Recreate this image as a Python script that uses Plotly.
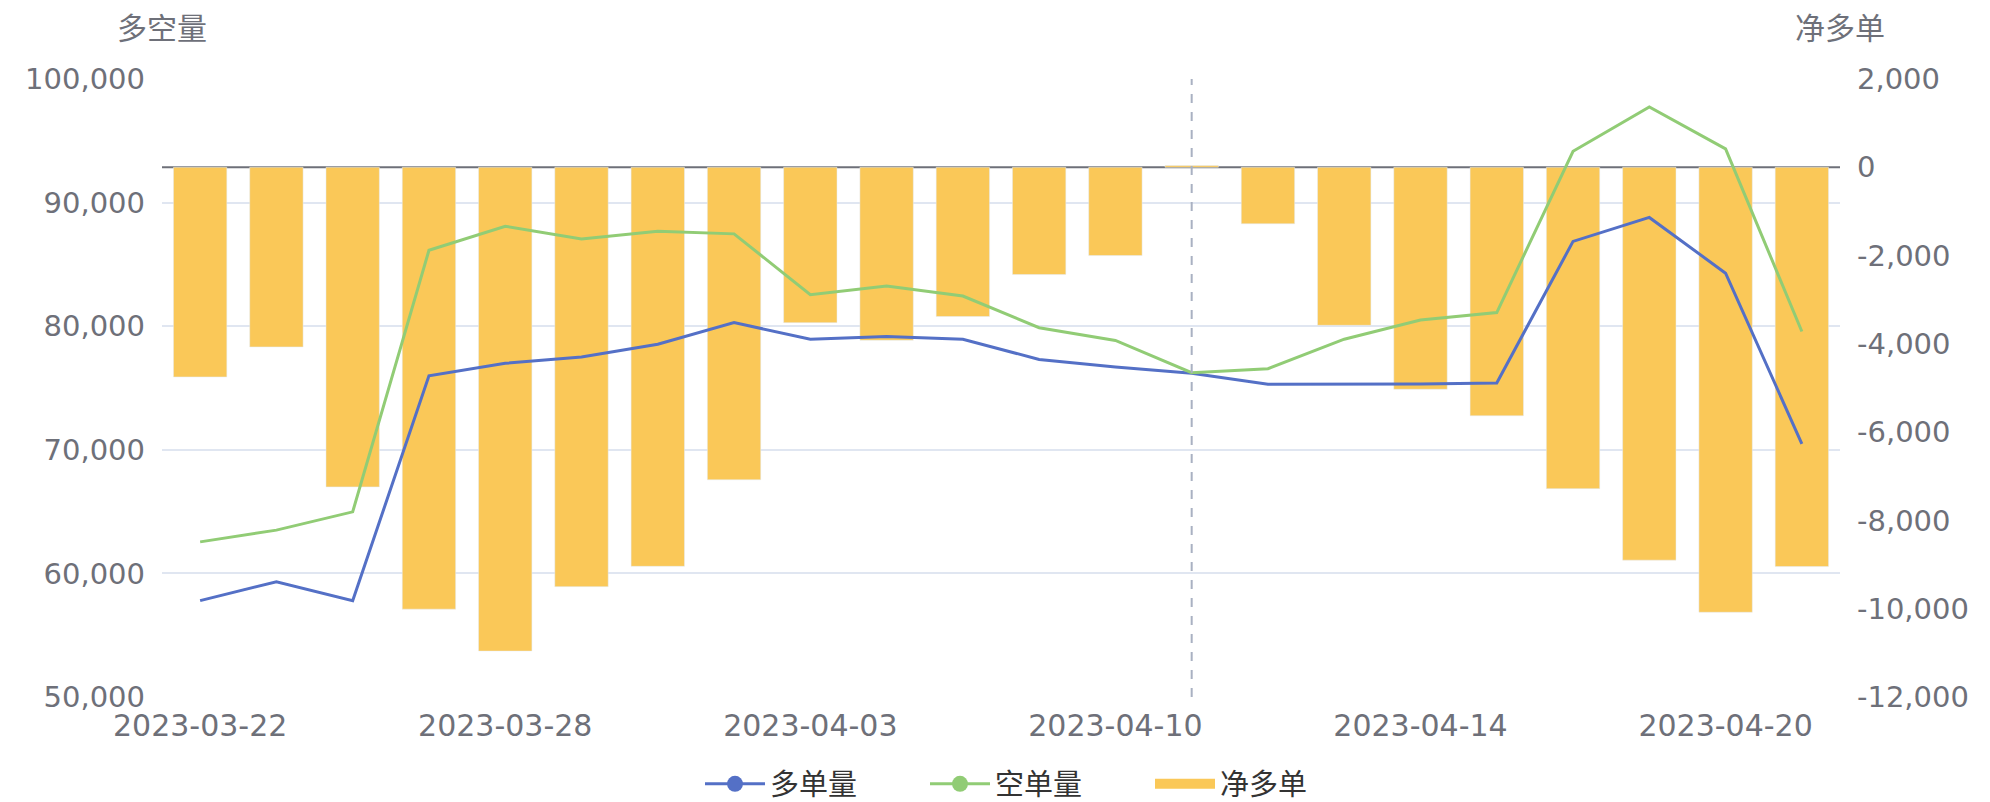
import plotly.graph_objects as go

dates = ["2023-03-22", "2023-03-23", "2023-03-24", "2023-03-27", "2023-03-28", "2023-03-29",
         "2023-03-30", "2023-03-31", "2023-04-03", "2023-04-04", "2023-04-06", "2023-04-07",
         "2023-04-10", "2023-04-11", "2023-04-12", "2023-04-13", "2023-04-14", "2023-04-17",
         "2023-04-18", "2023-04-19", "2023-04-20", "2023-04-21"]
long_vol = [57800, 59330, 57790, 75980, 77000, 77500, 78540, 80290, 78950, 79160, 78950, 77310,
            76700, 76200, 75300, 75300, 75320, 75400, 86860, 88800, 84290, 70480]
short_vol = [62550, 63500, 64980, 86140, 88090, 87060, 87680, 87470, 82550, 83260, 82440, 79880,
             78850, 76240, 76560, 78950, 80500, 81100, 94150, 97740, 94350, 79570]
net_long = [-4750, -4070, -7240, -10010, -10960, -9500, -9040, -7080, -3520, -3920, -3380, -2430,
            -2000, 40, -1280, -3580, -5030, -5630, -7280, -8900, -10080, -9045]

left_ticks = [50000, 60000, 70000, 80000, 90000, 100000]
right_ticks = [-12000, -10000, -8000, -6000, -4000, -2000, 0, 2000]
x_ticks = dates[::4]
pointer_date = "2023-04-11"

TXT = "#6E7079"
FONT = "DejaVu Sans, Noto Sans CJK SC, sans-serif"
BLUE, GREEN, YELLOW = "#5470C6", "#91CC75", "#FAC858"

# the page body has an 8px margin; the figure is sized/positioned to compensate
OFF = 8
W, H = 1990 - OFF, 802 - OFF
PL, PR, PT, PB = 162, 1840, 79, 697  # plot area in window pixels
ML, MT = PL - OFF, PT - OFF
MR, MB = W - (PR - OFF), H - (PB - OFF)
PH, PWD = PB - PT, PR - PL

def fmt(v):
    return f"{v:,}"

fig = go.Figure()
# bars on primary axis (right side), lines on overlaying axis (left side) so lines sit on top
fig.add_trace(go.Bar(x=dates, y=net_long, name="净多单", marker_color=YELLOW,
                     yaxis="y", showlegend=False))
fig.add_trace(go.Scatter(x=dates, y=long_vol, name="多单量", mode="lines", yaxis="y2",
                         line=dict(color=BLUE, width=3), showlegend=False))
fig.add_trace(go.Scatter(x=dates, y=short_vol, name="空单量", mode="lines", yaxis="y2",
                         line=dict(color=GREEN, width=3), showlegend=False))
# legend entries
fig.add_trace(go.Scatter(x=[None], y=[None], name="多单量", mode="lines+markers", yaxis="y2",
                         line=dict(color=BLUE, width=3), marker=dict(size=26, color=BLUE)))
fig.add_trace(go.Scatter(x=[None], y=[None], name="空单量", mode="lines+markers", yaxis="y2",
                         line=dict(color=GREEN, width=3), marker=dict(size=26, color=GREEN)))
fig.add_trace(go.Scatter(x=[None], y=[None], name="净多单", mode="lines", yaxis="y2",
                         line=dict(color=YELLOW, width=24)))

fig.update_layout(
    width=W, height=H,
    margin=dict(l=ML, r=MR, t=MT, b=MB, autoexpand=False),
    paper_bgcolor="white", plot_bgcolor="white",
    font=dict(family=FONT, size=29, color=TXT),
    bargap=0.3,
    xaxis=dict(type="category", categoryorder="array", categoryarray=dates,
               tickmode="array", tickvals=x_ticks, ticktext=x_ticks,
               showgrid=False, zeroline=False, showline=False, ticks="",
               ticklabelstandoff=8, tickfont=dict(size=30, color=TXT)),
    yaxis2=dict(range=[50000, 100000], tickmode="array", tickvals=left_ticks,
                ticktext=[fmt(v) for v in left_ticks], overlaying="y", side="left",
                showgrid=True, gridcolor="#E0E6F1", gridwidth=1.5, zeroline=False,
                showline=False, ticks="", ticklabelstandoff=16, tickfont=dict(size=29, color=TXT)),
    yaxis=dict(range=[-12000, 2000], side="right", tickmode="array",
               tickvals=right_ticks, ticktext=[fmt(v) for v in right_ticks],
               showgrid=False, zeroline=False, showline=False, ticks="",
               ticklabelstandoff=16, tickfont=dict(size=29, color=TXT)),
    legend=dict(orientation="h", x=(700 - PL) / PWD, xanchor="left",
                y=(PB - 784) / PH, yanchor="middle",
                font=dict(size=29, color="#333333"), itemwidth=60,
                entrywidth=150, entrywidthmode="pixels", traceorder="normal"),
    annotations=[
        dict(text="多空量", x=0, xref="paper", xanchor="center", y=1 + (PT - 28) / PH,
             yref="paper", yanchor="middle", showarrow=False, font=dict(size=30, color=TXT)),
        dict(text="净多单", x=1, xref="paper", xanchor="center", y=1 + (PT - 28) / PH,
             yref="paper", yanchor="middle", showarrow=False, font=dict(size=30, color=TXT)),
    ],
    shapes=[
        dict(type="line", xref="paper", x0=0, x1=1, yref="y", y0=0, y1=0,
             line=dict(color="#6E7079", width=2), layer="below"),
        dict(type="line", xref="x", x0=pointer_date, x1=pointer_date, yref="paper", y0=0, y1=1,
             line=dict(color="#A9B1C2", width=2, dash="dash"), layer="above"),
    ],
)

fig.write_html("out.html")
